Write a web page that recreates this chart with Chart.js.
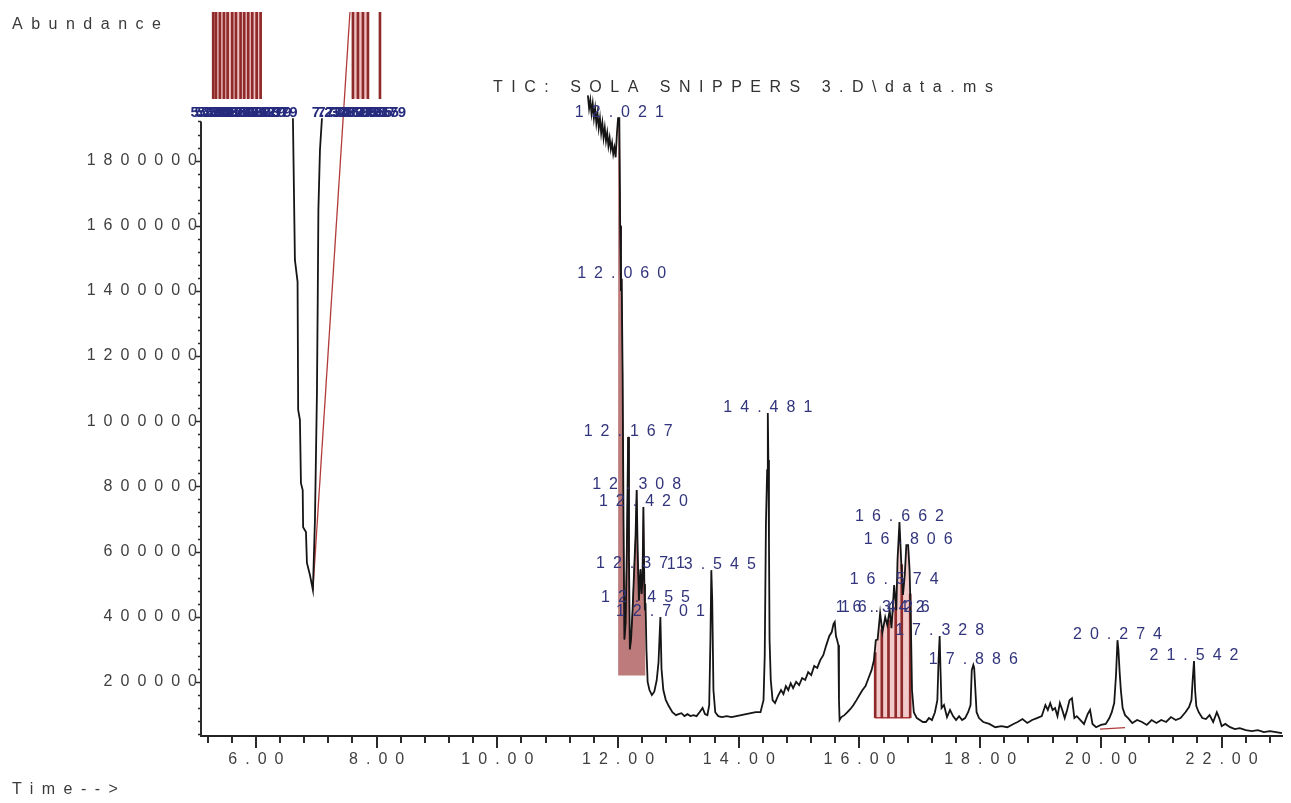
<!DOCTYPE html>
<html>
<head>
<meta charset="utf-8">
<title>TIC: SOLA SNIPPERS 3.D\data.ms</title>
<script src="https://cdn.jsdelivr.net/npm/chart.js@4.4.1/dist/chart.umd.min.js"></script>
<style>
  html, body { margin: 0; padding: 0; background: #fff; }
  canvas { display: block; }
</style>
</head>
<body>
<canvas id="tic" width="1291" height="803"></canvas>
<script>
// TIC trace: retention time (min) and abundance, null = off scale
const traceTime = [
  6.613, 6.646, 6.690, 6.700, 6.729, 6.746, 6.775, 6.782, 6.829, 6.845, 6.895, 6.944,
  6.978, 7.011, 7.024, 7.035, 7.061, 7.094, 7.100,
  11.50, 11.52, 11.54, 11.56, 11.58, 11.60, 11.62, 11.64, 11.66, 11.68, 11.70, 11.72,
  11.74, 11.76, 11.78, 11.80, 11.82, 11.84, 11.86, 11.88, 11.90, 11.92, 11.94, 11.96,
  11.98, 12.000, 12.021, 12.035, 12.048, 12.060, 12.075, 12.090, 12.105, 12.125, 12.145,
  12.167, 12.180, 12.195, 12.215, 12.240, 12.270, 12.290, 12.308, 12.325, 12.345, 12.371,
  12.390, 12.405, 12.420, 12.435, 12.445, 12.455, 12.470, 12.490, 12.520, 12.560, 12.600,
  12.640, 12.670, 12.701, 12.720, 12.750, 12.790, 12.840, 12.900, 12.960, 13.000,
  13.05, 13.10, 13.15, 13.20, 13.25, 13.30, 13.35, 13.40, 13.44, 13.48, 13.51, 13.53,
  13.545, 13.56, 13.58, 13.61, 13.66, 13.72, 13.80, 13.88, 13.96, 14.04, 14.12, 14.20,
  14.28, 14.36, 14.41, 14.43, 14.45, 14.47, 14.481, 14.49, 14.50, 14.51, 14.53, 14.56,
  14.60, 14.65, 14.70, 14.74, 14.78, 14.82, 14.86, 14.90, 14.95, 15.00, 15.05, 15.10,
  15.15, 15.20, 15.25, 15.30, 15.35, 15.40, 15.45, 15.50, 15.54, 15.57, 15.59, 15.61,
  15.63, 15.65, 15.66, 15.67, 15.70, 15.75, 15.80, 15.85, 15.90, 15.95, 16.00, 16.05,
  16.10, 16.15, 16.20, 16.24, 16.27, 16.30, 16.342, 16.38, 16.426, 16.46, 16.50, 16.53,
  16.574, 16.61, 16.63, 16.662, 16.69, 16.72, 16.75, 16.776, 16.806, 16.83, 16.85, 16.87,
  16.90, 16.95, 17.00, 17.05, 17.10, 17.15, 17.20, 17.25, 17.29, 17.31, 17.328, 17.34,
  17.36, 17.40, 17.45, 17.50, 17.55, 17.60, 17.65, 17.70, 17.75, 17.80, 17.84, 17.86,
  17.886, 17.90, 17.92, 17.94, 17.98, 18.05, 18.15, 18.25, 18.35, 18.45, 18.55, 18.62,
  18.70, 18.78, 18.86, 18.94, 19.02, 19.08, 19.12, 19.16, 19.20, 19.24, 19.28, 19.32,
  19.36, 19.40, 19.44, 19.48, 19.52, 19.56, 19.60, 19.66, 19.72, 19.78, 19.82, 19.86,
  19.92, 20.00, 20.08, 20.14, 20.18, 20.22, 20.25, 20.274, 20.29, 20.31, 20.33, 20.36,
  20.40, 20.45, 20.52, 20.60, 20.68, 20.76, 20.84, 20.92, 21.00, 21.08, 21.16, 21.24,
  21.32, 21.40, 21.46, 21.50, 21.52, 21.542, 21.56, 21.58, 21.62, 21.68, 21.74, 21.80,
  21.86, 21.92, 21.96, 22.00, 22.06, 22.14, 22.22, 22.30, 22.40, 22.50, 22.60, 22.70,
  22.80, 22.90, 23.00
];
const traceAbund = [
  1930000, 1495000, 1428000, 1035000, 1004000, 810000, 789000, 675000, 660000, 565000, 528000, 482000,
  697000, 1087000, 1372000, 1649000, 1833000, 1930000, null,
  2000000, 1960000, 1985000, 1945000, 1975000, 1930000, 1960000, 1915000, 1945000, 1900000, 1930000, 1885000,
  1915000, 1870000, 1900000, 1860000, 1885000, 1845000, 1870000, 1835000, 1855000, 1820000, 1840000, 1810000,
  1880000, 1930000, 1930000, 1600000, 1400000, 1437000, 1150000, 700000, 330000, 380000, 600000,
  952000, 600000, 300000, 330000, 420000, 560000, 650000, 789000, 600000, 450000, 546000,
  470000, 520000, 737000, 500000, 420000, 442000, 300000, 200000, 175000, 160000, 170000,
  205000, 260000, 399000, 240000, 175000, 145000, 126000, 107000, 98000, 101000,
  104000, 95000, 101000, 95000, 98000, 95000, 107000, 120000, 101000, 98000, 129000, 328000,
  543000, 451000, 175000, 107000, 95000, 92000, 95000, 92000, 95000, 98000, 101000, 104000,
  107000, 107000, 144000, 282000, 688000, 850000, 1025000, 881000, 635000, 328000, 206000, 144000,
  135000, 157000, 175000, 163000, 187000, 175000, 196000, 181000, 200000, 190000, 212000, 206000,
  230000, 221000, 249000, 243000, 267000, 282000, 313000, 341000, 353000, 378000, 384000, 341000,
  328000, 313000, 144000, 83000, 92000, 98000, 107000, 117000, 129000, 144000, 160000, 175000,
  187000, 212000, 236000, 267000, 328000, 330000, 411000, 353000, 399000, 375000, 420000, 365000,
  497000, 420000, 574000, 691000, 574000, 467000, 528000, 620000, 620000, 543000, 390000, 175000,
  107000, 89000, 83000, 77000, 77000, 89000, 83000, 107000, 144000, 267000, 341000, 252000,
  120000, 129000, 92000, 114000, 95000, 83000, 95000, 83000, 89000, 107000, 129000, 236000,
  252000, 243000, 175000, 107000, 89000, 77000, 71000, 61000, 64000, 61000, 71000, 77000,
  86000, 74000, 83000, 89000, 95000, 129000, 114000, 135000, 114000, 120000, 95000, 135000,
  114000, 89000, 114000, 144000, 150000, 89000, 95000, 83000, 71000, 101000, 114000, 71000,
  61000, 68000, 71000, 89000, 107000, 135000, 221000, 328000, 298000, 230000, 175000, 120000,
  98000, 89000, 74000, 83000, 77000, 68000, 83000, 74000, 83000, 77000, 92000, 83000,
  89000, 107000, 123000, 144000, 206000, 264000, 175000, 126000, 107000, 89000, 86000, 98000,
  77000, 107000, 89000, 64000, 71000, 61000, 55000, 58000, 52000, 49000, 52000, 46000,
  49000, 46000, 43000
];

// labelled peaks (retention time, apex abundance)
const peakTime = [12.021, 12.060, 12.167, 12.308, 12.420, 12.371, 12.455, 12.701, 13.545, 14.481,
  16.342, 16.426, 16.574, 16.662, 16.806, 17.328, 17.886, 20.274, 21.542];
const peakAbund = [1930000, 1437000, 952000, 789000, 737000, 546000, 442000, 399000, 543000, 1025000,
  411000, 411000, 497000, 691000, 620000, 341000, 252000, 328000, 264000];

// off-scale peaks, labels sit on the clip line
const offScaleTime = [5.229, 5.292, 5.337, 5.403, 5.470, 5.535, 5.607, 5.669, 5.746, 5.806, 5.872,
  5.939, 6.012, 6.078, 6.179, 6.279, 6.379, 7.234, 7.329, 7.472, 7.607, 7.690, 7.773, 7.856,
  7.955, 8.055, 8.179];
const clipAbund = 1930000;

// integration drop lines
const dropTime = [5.292, 5.337, 5.403, 5.470, 5.531, 5.607, 5.669, 5.746, 5.806, 5.872, 5.939, 6.012, 6.078,
  7.607, 7.690, 7.773, 7.856, 8.055,
  16.26, 16.37, 16.48, 16.60, 16.70, 16.84];
const dropLow = [1990000, 1990000, 1990000, 1990000, 1990000, 1990000, 1990000, 1990000, 1990000,
  1990000, 1990000, 1990000, 1990000,
  1990000, 1990000, 1990000, 1990000, 1990000,
  90000, 90000, 90000, 90000, 90000, 90000];
const dropHigh = [2400000, 2400000, 2400000, 2400000, 2400000, 2400000, 2400000, 2400000, 2400000,
  2400000, 2400000, 2400000, 2400000,
  2400000, 2400000, 2400000, 2400000, 2400000,
  290000, 360000, 390000, 430000, 560000, 470000];

// integration baselines
const baseSegTime = [[6.944, 7.558], [16.26, 16.84], [19.985, 20.40]];
const baseSegAbund = [[482000, 2256000], [90000, 90000], [55000, 60000]];

// shaded integration ranges [start, end, baseline]
const shadeTop = [[5.292, 6.078, 1990000], [7.600, 7.856, 1990000]];
const shadeTrace = [[12.000, 12.460, 220000], [16.26, 16.86, 90000]];

const xMajor = [6, 8, 10, 12, 14, 16, 18, 20, 22];
const yTicks = [200000, 400000, 600000, 800000, 1000000, 1200000, 1400000, 1600000, 1800000];
const yAxisTop = 1920000;

const FONT = '"Liberation Sans", Arial, sans-serif';
const shadeFill = ['rgba(145,35,35,0.6)', 'rgba(232,150,150,0.5)'];
const shadeLine = ['rgba(120,25,25,0.9)', 'rgba(0,0,0,0)'];

const tracePts = traceTime.map((t, i) => ({ x: t, y: traceAbund[i] }));

const datasets = [{
  label: 'TIC',
  data: tracePts,
  borderColor: '#151515',
  borderWidth: 1.8,
  pointRadius: 0,
  tension: 0,
  spanGaps: false,
  order: 0
}];

shadeTrace.forEach(([a, b, base], i) => {
  datasets.push({
    type: 'line',
    data: tracePts.filter(p => p.x >= a && p.x <= b),
    borderColor: shadeLine[i],
    borderWidth: 1,
    backgroundColor: shadeFill[i],
    fill: { value: base },
    pointRadius: 0,
    order: 3
  });
});

shadeTop.forEach(([a, b, base]) => {
  datasets.push({
    type: 'line',
    data: [{ x: a, y: 2400000 }, { x: b, y: 2400000 }],
    borderWidth: 0,
    backgroundColor: 'rgba(225,140,140,0.55)',
    fill: { value: base },
    pointRadius: 0,
    order: 4
  });
});

baseSegTime.forEach((ts, i) => {
  datasets.push({
    type: 'line',
    data: ts.map((t, j) => ({ x: t, y: baseSegAbund[i][j] })),
    borderColor: '#b23a3a',
    borderWidth: 1.3,
    pointRadius: 0,
    order: 2
  });
});

datasets.push({
  type: 'bar',
  data: dropTime.map((t, i) => ({ x: t, y: [dropLow[i], dropHigh[i]] })),
  backgroundColor: '#8e2a2a',
  barThickness: 2,
  grouped: false,
  order: 1
});

const decor = {
  id: 'decor',
  beforeDraw(chart) {
    chart.ctx.letterSpacing = '8px';
  },
  afterDatasetsDraw(chart) {
    const { ctx, scales: { x, y } } = chart;
    ctx.save();
    ctx.textAlign = 'center';
    ctx.textBaseline = 'alphabetic';
    // off-scale labels, crowded on the clip line
    ctx.letterSpacing = '0px';
    ctx.font = 'bold 15px ' + FONT;
    ctx.fillStyle = '#262b7e';
    offScaleTime.forEach(t => {
      ctx.fillText(t.toFixed(3), x.getPixelForValue(t), y.getPixelForValue(clipAbund) - 1);
    });
    // peak labels
    ctx.letterSpacing = '8px';
    ctx.font = '16px ' + FONT;
    ctx.fillStyle = '#32357c';
    peakTime.forEach((t, i) => {
      ctx.fillText(t.toFixed(3), x.getPixelForValue(t) + 4, y.getPixelForValue(peakAbund[i]) - 1);
    });
    ctx.restore();
  },
  afterDraw(chart) {
    const { ctx, chartArea, scales: { x, y } } = chart;
    ctx.save();
    ctx.strokeStyle = '#2a2a2a';
    // y axis line stops at the clip line
    ctx.lineWidth = 2;
    ctx.beginPath();
    ctx.moveTo(chartArea.left, y.getPixelForValue(yAxisTop));
    ctx.lineTo(chartArea.left, chartArea.bottom + 1);
    ctx.stroke();
    ctx.lineWidth = 1.5;
    ctx.beginPath();
    for (let v = 40000; v <= yAxisTop; v += 40000) {
      const py = Math.round(y.getPixelForValue(v)) + 0.5;
      const len = v % 200000 === 0 ? 5 : 3;
      ctx.moveTo(chartArea.left - len, py);
      ctx.lineTo(chartArea.left, py);
    }
    ctx.stroke();
    // x ticks: minor every 0.4 min, major every 2 min
    ctx.lineWidth = 2;
    ctx.beginPath();
    for (let i = 13; i <= 57; i++) {
      const px = Math.round(x.getPixelForValue(i * 0.4));
      const len = i % 5 === 0 ? 12 : 7;
      ctx.moveTo(px, chartArea.bottom);
      ctx.lineTo(px, chartArea.bottom + len);
    }
    ctx.stroke();
    // texts
    ctx.letterSpacing = '8.5px';
    ctx.font = '16px ' + FONT;
    ctx.textBaseline = 'middle';
    ctx.textAlign = 'left';
    ctx.fillStyle = '#3a3a3a';
    ctx.fillText('Abundance', 12, 25);
    ctx.fillText('Time-->', 12, 790);
    ctx.fillStyle = '#333';
    ctx.fillText('TIC: SOLA SNIPPERS 3.D\\data.ms', 493, 88);
    ctx.restore();
  }
};

new Chart(document.getElementById('tic'), {
  type: 'line',
  data: { datasets },
  options: {
    responsive: false,
    animation: false,
    events: [],
    layout: { padding: { top: 12, right: 9, bottom: 0, left: 0 } },
    plugins: { legend: { display: false }, tooltip: { enabled: false } },
    scales: {
      x: {
        type: 'linear',
        min: 5.09,
        max: 23.0,
        offset: false,
        grid: { display: false, drawTicks: false },
        border: { display: true, color: '#222', width: 2 },
        afterBuildTicks: s => { s.ticks = xMajor.map(v => ({ value: v })); },
        afterFit: s => { s.height = 67; },
        ticks: {
          padding: 14,
          labelOffset: 4,
          maxRotation: 0,
          autoSkip: false,
          color: '#404040',
          font: { family: FONT, size: 16 },
          callback: v => v.toFixed(2)
        }
      },
      y: {
        min: 34000,
        max: 2256000,
        grid: { display: false, drawTicks: false },
        border: { display: false },
        afterBuildTicks: s => { s.ticks = yTicks.map(v => ({ value: v })); },
        afterFit: s => { s.width = 201; },
        ticks: {
          padding: -4,
          autoSkip: false,
          color: '#404040',
          font: { family: FONT, size: 16 },
          callback: v => String(v)
        }
      }
    }
  },
  plugins: [decor]
});
</script>
</body>
</html>
